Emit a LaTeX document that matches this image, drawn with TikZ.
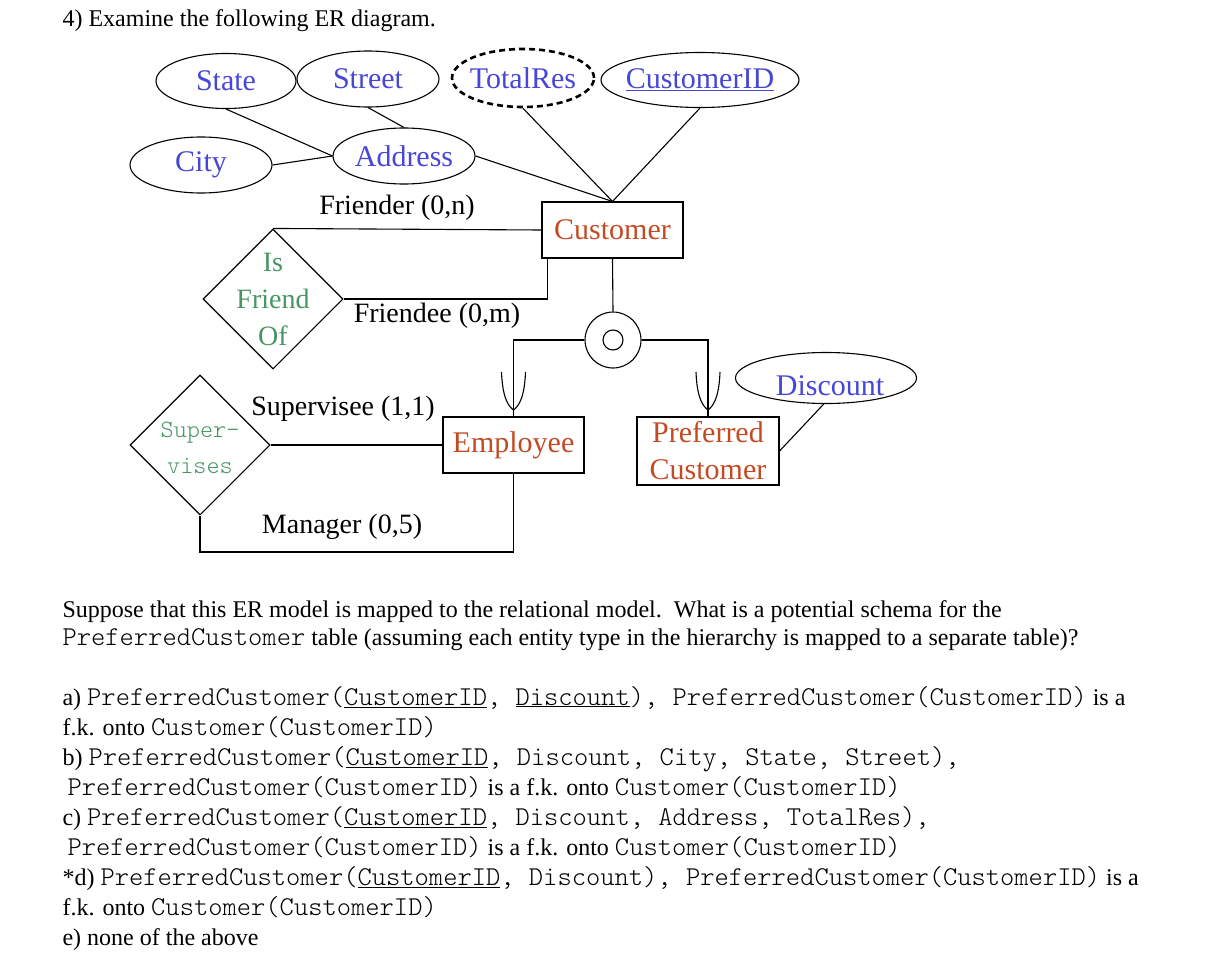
\documentclass[tikz,border=0pt]{standalone}
\usepackage{fontspec}
\setmainfont{Liberation Serif}
\usetikzlibrary{shapes.geometric}
\definecolor{attrblue}{RGB}{70,70,215}
\definecolor{entred}{RGB}{195,75,35}
\definecolor{relgreen}{RGB}{70,150,100}
\newcommand{\code}[1]{{\fontfamily{lmtt}\fontseries{l}\fontsize{27.2}{30}\selectfont #1}}
\begin{document}
\begin{tikzpicture}[x=1pt,y=-1pt,line width=1.1pt,
    attr/.style={ellipse, draw, inner sep=0pt},
    attrtext/.style={text=attrblue, font=\fontsize{30}{34}\selectfont},
    entity/.style={rectangle, draw, inner sep=0pt, text=entred, align=center, font=\fontsize{30}{37}\selectfont},
    rel/.style={diamond, draw, inner sep=0pt, minimum width=140pt, minimum height=140pt},
    reltext/.style={text=relgreen, align=center},
    role/.style={font=\fontsize{28}{32}\selectfont},
    txt/.style={anchor=base west, inner sep=0pt, font=\fontsize{24}{30}\selectfont}]
    \useasboundingbox (0,0) rectangle (1220,958);

    \node[txt] (title) at (62,27) {4) Examine the following ER diagram.};

    \node[attr, minimum width=140pt, minimum height=55pt, label={[attrtext]center:State}] (state) at (226,81) {};
    \node[attr, minimum width=142pt, minimum height=56pt, label={[attrtext]center:Street}] (street) at (368,79) {};
    \node[attr, minimum width=142pt, minimum height=58pt, line width=2.6pt, dash pattern=on 6pt off 4pt, label={[attrtext]center:TotalRes}] (totalres) at (523,78) {};
    \node[attr, minimum width=198pt, minimum height=55pt, label={[attrtext]center:\underline{CustomerID}}] (custid) at (700,80) {};
    \node[attr, minimum width=142pt, minimum height=56pt, label={[attrtext]center:City}] (city) at (201,165) {};
    \node[attr, minimum width=142pt, minimum height=56pt, label={[attrtext]center:Address}] (address) at (404,156) {};
    \node[attr, minimum width=181pt, minimum height=51pt, label={[attrtext,yshift=-8pt,xshift=4pt]center:Discount}] (discount) at (826,378) {};

    \node[entity, minimum width=141pt, minimum height=56pt] (customer) at (612.5,230) {Customer};
    \node[entity, minimum width=141pt, minimum height=56pt] (employee) at (513.5,445) {Employee};
    \node[entity, minimum width=142pt, minimum height=68pt] (prefcust) at (708,451) {Preferred\\Customer};

    \node[rel, label={[reltext, font=\fontsize{28}{37}\selectfont]center:Is\\Friend\\Of}] (isfriend) at (273,299) {};
    \node[rel, label={[reltext, font=\fontfamily{lmtt}\fontseries{l}\fontsize{25}{36}\selectfont, yshift=-3pt]center:Super-\\vises}] (supervises) at (200,445) {};

    \node[circle, draw, minimum size=56pt, inner sep=0pt] (overlap) at (613,340) {};
    \draw (overlap.center) circle[radius=10pt];

    \draw (state.south) -- (address.west);
    \draw (street.south) -- (address.north);
    \draw (city.east) -- (address.west);
    \draw (address.east) -- (customer.north);
    \draw (totalres.south) -- (customer.north);
    \draw (custid.south) -- (customer.north);
    \draw (discount.-95) -- (prefcust.east);

    \draw (isfriend.north) -- (customer.west);
    \draw (isfriend.east) -| ([xshift=6pt]customer.south west);
    \node[role] (friender) at (397,208) {Friender (0,n)};
    \node[role] (friendee) at (437,316) {Friendee (0,m)};

    \draw (customer.south) -- (overlap.north);
    \draw (overlap.west) -| (employee.north);
    \draw (overlap.east) -| (prefcust.north);
    \foreach \ux in {513.5,708}
        \draw (\ux-12,372) .. controls (\ux-11,400) and (\ux-4,407) .. (\ux,410)
              .. controls (\ux+4,407) and (\ux+11,400) .. (\ux+12,372);

    \coordinate (mgr) at (513.5,552);
    \draw (supervises.east) -- (employee.west);
    \draw (supervises.south) |- (mgr) -- (employee.south);
    \node[role] (supervisee) at (343,409) {Supervisee (1,1)};
    \node[role] (manager) at (342,527) {Manager (0,5)};

    \node[txt] (q1) at (62,617) {Suppose that this ER model is mapped to the relational model.\ \ What is a potential schema for the};
    \node[txt] (q2) at (62,645) {\code{PreferredCustomer} table (assuming each entity type in the hierarchy is mapped to a separate table)?};
    \node[txt] (a1) at (62,705) {a) \code{PreferredCustomer(\underline{CustomerID}, \underline{Discount}), PreferredCustomer(CustomerID)} is a};
    \node[txt] (a2) at (62,735) {f.k. onto \code{Customer(CustomerID)}};
    \node[txt] (b1) at (62,765) {b) \code{PreferredCustomer(\underline{CustomerID}, Discount, City, State, Street),}};
    \node[txt] (b2) at (67,795) {\code{PreferredCustomer(CustomerID)} is a f.k. onto \code{Customer(CustomerID)}};
    \node[txt] (c1) at (62,825) {c) \code{PreferredCustomer(\underline{CustomerID}, Discount, Address, TotalRes),}};
    \node[txt] (c2) at (67,855) {\code{PreferredCustomer(CustomerID)} is a f.k. onto \code{Customer(CustomerID)}};
    \node[txt] (d1) at (62,885) {*d) \code{PreferredCustomer(\underline{CustomerID}, Discount), PreferredCustomer(CustomerID)} is a};
    \node[txt] (d2) at (62,915) {f.k. onto \code{Customer(CustomerID)}};
    \node[txt] (e1) at (62,945) {e) none of the above};
\end{tikzpicture}
\end{document}
